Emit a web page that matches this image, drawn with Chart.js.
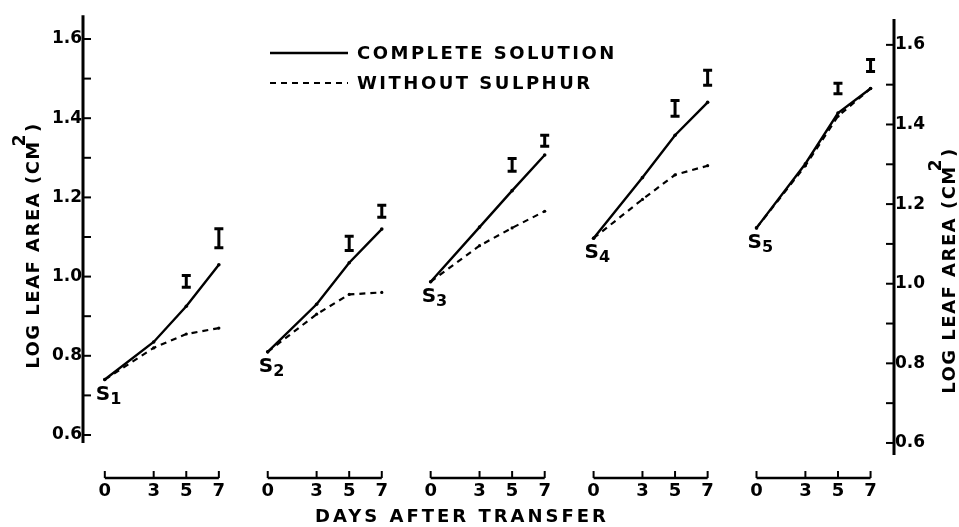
<!DOCTYPE html>
<html>
<head>
<meta charset="utf-8">
<script src="https://cdn.jsdelivr.net/npm/chart.js@4.4.1/dist/chart.umd.min.js"></script>
<style>
  html, body { margin: 0; padding: 0; background: #fff; }
</style>
</head>
<body>
<canvas id="leaf-chart" width="959" height="527"></canvas>
<script>
// Log leaf area of plants transferred at stages S1..S5
const days = [0, 3, 5, 7];
const stages = ["1", "2", "3", "4", "5"];
const completeSolution = [
  [0.74, 0.835, 0.925, 1.03],
  [0.81, 0.93, 1.035, 1.12],
  [0.987, 1.125, 1.217, 1.307],
  [1.097, 1.25, 1.357, 1.44],
  [1.123, 1.285, 1.413, 1.475]
];
const withoutSulphur = [
  [0.74, 0.82, 0.855, 0.87],
  [0.81, 0.905, 0.955, 0.96],
  [0.987, 1.078, 1.123, 1.165],
  [1.097, 1.195, 1.257, 1.28],
  [1.123, 1.28, 1.405, 1.475]
];
// error bars shown above the complete solution line at days 5 and 7
const errDays = [5, 7];
const errMid = [
  [0.988, 1.097],
  [1.084, 1.165],
  [1.282, 1.343],
  [1.425, 1.502],
  [1.475, 1.533]
];
const errHalf = [
  [0.015, 0.024],
  [0.018, 0.015],
  [0.016, 0.014],
  [0.02, 0.019],
  [0.013, 0.015]
];
const yTicks = [0.6, 0.7, 0.8, 0.9, 1.0, 1.1, 1.2, 1.3, 1.4, 1.5, 1.6];
const groupGap = 10;

const FAMILY = '"DejaVu Sans", sans-serif';
const INK = "#000";

// each stage sits on its own 0..7 day axis, groups are groupGap days apart
function toPoints(series) {
  const pts = [];
  series.forEach((vals, k) => {
    vals.forEach((v, i) => pts.push({ x: k * groupGap + days[i], y: v }));
    pts.push({ x: k * groupGap + 8.5, y: null });
  });
  return pts;
}

function xTickValues() {
  const out = [];
  stages.forEach((s, k) => days.forEach(d => out.push({ value: k * groupGap + d })));
  return out;
}

function drawYTitle(ctx, cx, cy) {
  ctx.save();
  ctx.translate(cx, cy);
  ctx.rotate(-Math.PI / 2);
  ctx.fillStyle = INK;
  ctx.textBaseline = "middle";
  ctx.textAlign = "left";
  ctx.letterSpacing = "1.5px";
  ctx.font = "bold 18px " + FAMILY;
  const main = "LOG LEAF AREA (CM";
  const w1 = ctx.measureText(main).width;
  const w3 = ctx.measureText(")").width;
  ctx.font = "bold 17px " + FAMILY;
  const w2 = ctx.measureText("2").width;
  const x0 = -(w1 + w2 + w3) / 2;
  ctx.font = "bold 18px " + FAMILY;
  ctx.fillText(main, x0, 0);
  ctx.font = "bold 17px " + FAMILY;
  ctx.fillText("2", x0 + w1 - 6, -13);
  ctx.font = "bold 18px " + FAMILY;
  ctx.fillText(")", x0 + w1 + w2 - 5, 0);
  ctx.restore();
}

const paperPlugin = {
  id: "paper",
  afterDraw(chart) {
    const ctx = chart.ctx;
    const x = chart.scales.x;
    const y = chart.scales.y;
    const y2 = chart.scales.y2;
    const area = chart.chartArea;
    ctx.save();
    ctx.strokeStyle = INK;
    ctx.fillStyle = INK;
    ctx.lineCap = "butt";

    // left axis with inward ticks
    ctx.lineWidth = 3;
    ctx.beginPath();
    ctx.moveTo(area.left + 1, y.getPixelForValue(1.66));
    ctx.lineTo(area.left + 1, y.getPixelForValue(0.58));
    ctx.stroke();
    ctx.lineWidth = 2;
    yTicks.forEach(v => {
      const py = y.getPixelForValue(v);
      ctx.beginPath();
      ctx.moveTo(area.left + 1, py);
      ctx.lineTo(area.left + 9, py);
      ctx.stroke();
    });

    // right axis with inward ticks
    ctx.lineWidth = 3;
    ctx.beginPath();
    ctx.moveTo(area.right - 1, y2.getPixelForValue(1.665));
    ctx.lineTo(area.right - 1, y2.getPixelForValue(0.57));
    ctx.stroke();
    ctx.lineWidth = 2;
    yTicks.forEach(v => {
      const py = y2.getPixelForValue(v);
      ctx.beginPath();
      ctx.moveTo(area.right - 1, py);
      ctx.lineTo(area.right - 9, py);
      ctx.stroke();
    });

    // one short day axis per stage
    stages.forEach((s, k) => {
      const x0 = x.getPixelForValue(k * groupGap + days[0]);
      const x1 = x.getPixelForValue(k * groupGap + days[days.length - 1]);
      ctx.lineWidth = 2.5;
      ctx.beginPath();
      ctx.moveTo(x0, area.bottom);
      ctx.lineTo(x1, area.bottom);
      ctx.stroke();
      ctx.lineWidth = 2;
      days.forEach(d => {
        const px = x.getPixelForValue(k * groupGap + d);
        ctx.beginPath();
        ctx.moveTo(px, area.bottom);
        ctx.lineTo(px, area.bottom - 7);
        ctx.stroke();
      });
    });

    // error bars
    ctx.lineWidth = 3;
    errMid.forEach((mids, k) => {
      mids.forEach((m, i) => {
        const px = x.getPixelForValue(k * groupGap + errDays[i]);
        const top = y.getPixelForValue(m + errHalf[k][i]);
        const bot = y.getPixelForValue(m - errHalf[k][i]);
        ctx.beginPath();
        ctx.moveTo(px, top);
        ctx.lineTo(px, bot);
        ctx.moveTo(px - 4.5, top);
        ctx.lineTo(px + 4.5, top);
        ctx.moveTo(px - 4.5, bot);
        ctx.lineTo(px + 4.5, bot);
        ctx.stroke();
      });
    });

    // stage labels S1..S5 below each starting point
    ctx.textAlign = "left";
    ctx.textBaseline = "top";
    stages.forEach((s, k) => {
      const px = x.getPixelForValue(k * groupGap + days[0]) - 9;
      const py = y.getPixelForValue(completeSolution[k][0]) + 5;
      ctx.font = "bold 20px " + FAMILY;
      ctx.fillText("S", px, py);
      const w = ctx.measureText("S").width;
      ctx.font = "bold 16px " + FAMILY;
      ctx.fillText(s, px + w, py + 7);
    });

    // legend
    ctx.textBaseline = "middle";
    ctx.letterSpacing = "2.5px";
    ctx.font = "bold 18px " + FAMILY;
    chart.data.datasets.forEach((ds, i) => {
      const ly = 53 + i * 30;
      ctx.lineWidth = ds.borderWidth;
      ctx.setLineDash(ds.borderDash || []);
      ctx.beginPath();
      ctx.moveTo(270, ly);
      ctx.lineTo(348, ly);
      ctx.stroke();
      ctx.setLineDash([]);
      ctx.fillText(ds.label, 357, ly + 1);
    });

    // x title
    ctx.letterSpacing = "3px";
    ctx.textAlign = "center";
    ctx.fillText("DAYS AFTER TRANSFER", 462, 517);
    ctx.letterSpacing = "0px";
    ctx.restore();

    drawYTitle(ctx, 34, 243);
    drawYTitle(ctx, 950, 268);
  }
};

const ctx = document.getElementById("leaf-chart").getContext("2d");

new Chart(ctx, {
  type: "line",
  data: {
    datasets: [
      {
        label: "COMPLETE SOLUTION",
        data: toPoints(completeSolution),
        borderColor: INK,
        backgroundColor: INK,
        borderWidth: 2.4,
        pointRadius: 1.8,
        pointBorderWidth: 0,
        spanGaps: false,
        tension: 0
      },
      {
        label: "WITHOUT SULPHUR",
        data: toPoints(withoutSulphur),
        borderColor: INK,
        backgroundColor: INK,
        borderWidth: 2.2,
        borderDash: [6, 5],
        pointRadius: 1.6,
        pointBorderWidth: 0,
        spanGaps: false,
        tension: 0
      }
    ]
  },
  options: {
    responsive: false,
    animation: false,
    layout: { padding: { top: 15, bottom: 0, left: 0, right: 0 } },
    plugins: {
      legend: { display: false },
      tooltip: { enabled: false }
    },
    scales: {
      x: {
        type: "linear",
        min: -1.4,
        max: 48.5,
        afterBuildTicks: scale => { scale.ticks = xTickValues(); },
        afterFit: scale => { scale.height = 49; },
        grid: { display: false, drawTicks: false },
        border: { display: false },
        ticks: {
          autoSkip: false,
          maxRotation: 0,
          padding: 3,
          color: INK,
          font: { family: FAMILY, size: 18, weight: "bold" },
          callback: v => String(Math.round(v) % groupGap)
        }
      },
      y: {
        position: "left",
        min: 0.4914,
        max: 1.6606,
        afterBuildTicks: scale => { scale.ticks = yTicks.map(v => ({ value: v })); },
        afterFit: scale => { scale.width = 82; },
        grid: { display: false, drawTicks: false },
        border: { display: false },
        ticks: {
          padding: 0,
          color: INK,
          font: { family: FAMILY, size: 17, weight: "bold" },
          callback: v => (Math.round(v * 10) % 2 === 0 ? v.toFixed(1) : "")
        }
      },
      y2: {
        position: "right",
        min: 0.512,
        max: 1.675,
        afterBuildTicks: scale => { scale.ticks = yTicks.map(v => ({ value: v })); },
        afterFit: scale => { scale.width = 64; },
        grid: { display: false, drawTicks: false },
        border: { display: false },
        ticks: {
          padding: 0,
          color: INK,
          font: { family: FAMILY, size: 17, weight: "bold" },
          callback: v => (Math.round(v * 10) % 2 === 0 ? v.toFixed(1) : "")
        }
      }
    }
  },
  plugins: [paperPlugin]
});
</script>
</body>
</html>
